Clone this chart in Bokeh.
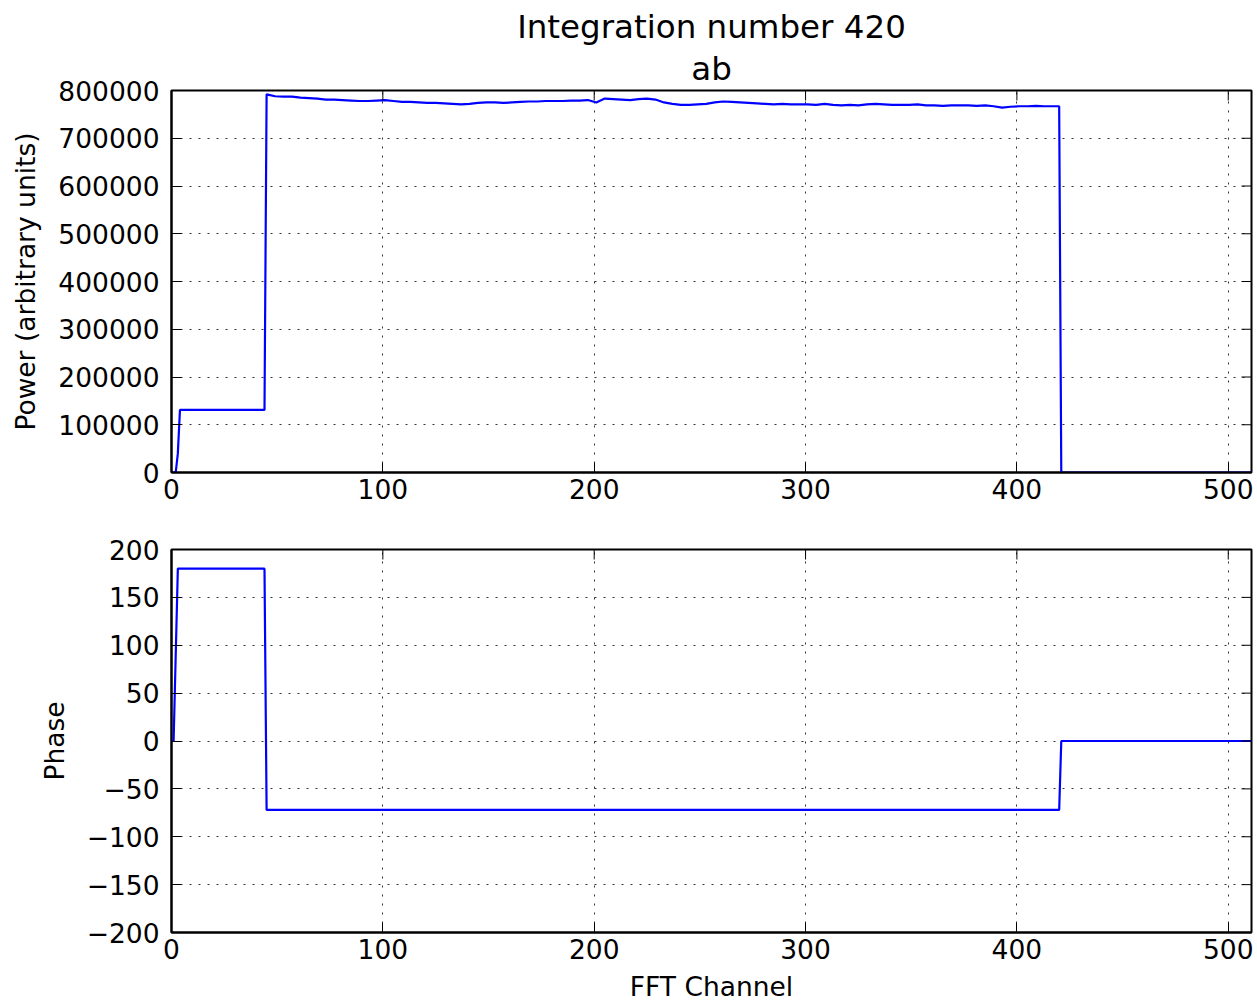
from bokeh.plotting import figure
from bokeh.models import Range1d, FixedTicker, CustomJSTickFormatter, Title
from bokeh.layouts import column
from bokeh.embed import file_html
from bokeh.resources import INLINE
import math

# Tick positions
channel_ticks = [0, 100, 200, 300, 400, 500]
power_ticks = [0, 100000, 200000, 300000, 400000, 500000, 600000, 700000, 800000]
phase_ticks = [-200, -150, -100, -50, 0, 50, 100, 150, 200]

# Cross power per FFT channel (arbitrary units)
power_channels = [0, 1, 2, 3, 4, 44,
                  45, 49, 53, 57, 61, 65, 69, 73, 77, 81, 85, 89, 93, 97,
                  101, 105, 109, 113, 117, 121, 125, 129, 133, 137, 141, 145, 149,
                  153, 157, 161, 165, 169, 173, 177, 181, 185, 189, 193, 197,
                  201, 205, 209, 213, 217, 221, 225, 229, 233, 237, 241, 245, 249,
                  253, 257, 261, 265, 269, 273, 277, 281, 285, 289, 293, 297,
                  301, 305, 309, 313, 317, 321, 325, 329, 333, 337, 341, 345, 349,
                  353, 357, 361, 365, 369, 373, 377, 381, 385, 389, 393, 397,
                  401, 405, 409, 413, 417, 420, 421, 511]
power_values = [0, 0, 0, 40000, 131000, 131000,
                792000, 788000, 787000, 787000, 785000, 784000, 783000, 781000, 781000, 780000, 779000, 778000, 778000, 779000,
                780000, 778000, 776000, 776000, 775000, 774000, 774000, 773000, 772000, 771000, 772000, 774000, 775000,
                775000, 774000, 775000, 776000, 777000, 777000, 778000, 778000, 778000, 779000, 779000, 780000,
                775000, 783000, 782000, 781000, 780000, 782000, 783000, 781000, 775000, 772000, 770000, 770000, 771000,
                772000, 775000, 777000, 776000, 775000, 774000, 773000, 772000, 771000, 772000, 771000, 771000,
                771000, 770000, 772000, 770000, 769000, 770000, 769000, 771000, 772000, 771000, 770000, 770000, 770000,
                771000, 769000, 769000, 768000, 769000, 769000, 769000, 768000, 769000, 767000, 764000, 766000,
                767000, 767000, 768000, 767000, 767000, 767000, 0, 0]

# Phase per FFT channel (degrees)
phase_channels = [0, 1, 3, 44, 45, 420, 421, 511]
phase_values = [0, 0, 180, 180, -72, -72, 0, 0]

FONT = "DejaVu Sans"
LINE_BLUE = "#0000ff"
TICK_SIZE = "26.5px"
TITLE_SIZE = "32.5px"
TICK_LEN = 10

minus_fmt = CustomJSTickFormatter(
    code="return tick < 0 ? '\\u2212' + Math.abs(tick) : String(tick);")


def style_axes(p, yticks, ylabel, xlabel=None):
    p.outline_line_color = "black"
    p.outline_line_width = 2
    p.background_fill_color = "white"
    p.border_fill_color = "white"

    for ax in p.xaxis:
        ax.ticker = FixedTicker(ticks=channel_ticks)
        ax.major_label_standoff = 6
        if xlabel:
            ax.axis_label = xlabel
    for ax in p.yaxis:
        ax.ticker = FixedTicker(ticks=yticks)
        ax.major_label_standoff = 12
        ax.axis_label = ylabel
        ax.axis_label_standoff = 14
    for ax in p.xaxis + p.yaxis:
        ax.formatter = minus_fmt
        ax.axis_line_color = "black"
        ax.axis_line_width = 2
        ax.major_tick_in = TICK_LEN
        ax.major_tick_out = 0
        ax.major_tick_line_width = 1
        ax.minor_tick_line_color = None
        ax.major_label_text_font = FONT
        ax.major_label_text_font_size = TICK_SIZE
        ax.major_label_text_color = "black"
        ax.axis_label_text_font = FONT
        ax.axis_label_text_font_size = TICK_SIZE
        ax.axis_label_text_font_style = "normal"
        ax.axis_label_text_color = "black"

    # inward tick marks mirrored on the top and right edges of the frame
    # (dash markers centred on the edge; the half outside the frame is clipped)
    p.scatter(x=channel_ticks, y=[p.y_range.end] * len(channel_ticks), marker="dash",
              size=2 * TICK_LEN, angle=math.pi / 2, line_color="black", line_width=1)
    p.scatter(x=[p.x_range.end] * len(yticks), y=yticks, marker="dash",
              size=2 * TICK_LEN, line_color="black", line_width=1)

    for g in p.xgrid + p.ygrid:
        g.grid_line_color = "black"
        g.grid_line_alpha = 0.8
        g.grid_line_width = 1
        g.grid_line_dash = "2 7"
    p.xgrid.ticker = FixedTicker(ticks=channel_ticks)
    p.ygrid.ticker = FixedTicker(ticks=yticks)


p1 = figure(width=1257, height=510, x_range=Range1d(0, 511), y_range=Range1d(0, 800000),
            output_backend="svg", toolbar_location=None,
            min_border_left=171, min_border_right=6, min_border_top=90, min_border_bottom=38)
p1.line(power_channels, power_values, line_color=LINE_BLUE, line_width=2.2)
style_axes(p1, power_ticks, "Power (arbitrary units)")
p1.add_layout(Title(text="ab", align="center", text_font=FONT, text_font_size=TITLE_SIZE,
                    text_font_style="normal", text_color="black", standoff=5), "above")
p1.add_layout(Title(text="Integration number 420", align="center", text_font=FONT,
                    text_font_size=TITLE_SIZE, text_font_style="normal", text_color="black",
                    standoff=0), "above")

p2 = figure(width=1257, height=494, x_range=Range1d(0, 511), y_range=Range1d(-200, 200),
            output_backend="svg", toolbar_location=None,
            min_border_left=171, min_border_right=6, min_border_top=39, min_border_bottom=72)
p2.line(phase_channels, phase_values, line_color=LINE_BLUE, line_width=2.2)
style_axes(p2, phase_ticks, "Phase", "FFT Channel")
p2.xaxis[0].axis_label_standoff = 9

layout = column(p1, p2)
open("out.html", "w").write(file_html(layout, INLINE))
